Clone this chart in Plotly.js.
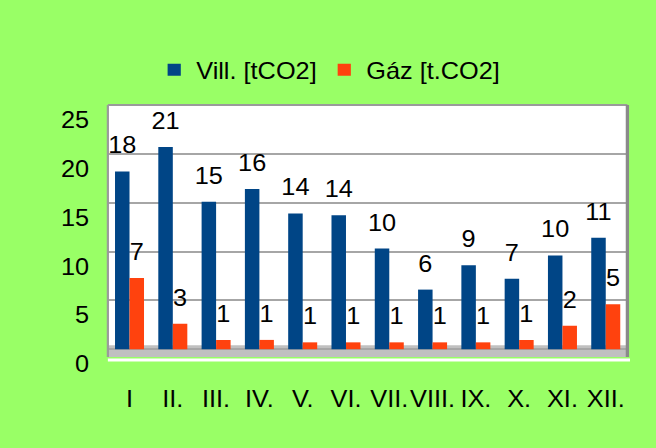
<!DOCTYPE html>
<html>
<head>
<meta charset="utf-8">
<script src="https://cdn.plot.ly/plotly-3.0.1.min.js"></script>
<style>
  html, body { margin: 0; padding: 0; background: #99ff66; overflow: hidden; }
  #chart { width: 596px; height: 448px; transform: scaleX(1.1007); transform-origin: 0 0; }
</style>
</head>
<body>
<div id="chart"></div>
<script>
// Months (Roman numerals, as in the reference)
const months = ['I', 'II.', 'III.', 'IV.', 'V.', 'VI.', 'VII.', 'VIII.', 'IX.', 'X.', 'XI.', 'XII.'];
// Electricity [tCO2]
const vill = [18.2, 20.7, 15.1, 16.4, 13.9, 13.7, 10.3, 6.1, 8.6, 7.2, 9.6, 11.4];
// Gas [t.CO2]
const gaz = [7.3, 2.6, 0.95, 0.95, 0.7, 0.7, 0.7, 0.7, 0.7, 0.95, 2.4, 4.6];

const seriesNames = ['Vill. [tCO2]', 'Gáz [t.CO2]'];
const colors = ['#004586', '#ff420e'];
const FONT = '"Liberation Sans", Arial, sans-serif';

const barTrace = (y, i) => ({
  type: 'bar', x: months, y: y, name: seriesNames[i],
  marker: { color: colors[i] }, hoverinfo: 'skip'
});
const labelTrace = (y, i) => ({
  type: 'scatter', mode: 'markers+text', x: months, y: y,
  texttemplate: '%{y:.0f}', textposition: 'top center',
  textfont: { family: FONT, size: 23, color: '#000' },
  marker: { size: 18, opacity: 0 }, showlegend: false, hoverinfo: 'skip',
  cliponaxis: false
});

const data = [barTrace(vill, 0), barTrace(gaz, 1), labelTrace(vill, 0), labelTrace(gaz, 1)];

const layout = {
  width: 596, height: 448,
  paper_bgcolor: '#99ff66', plot_bgcolor: '#ffffff',
  font: { family: FONT, size: 23, color: '#000' },
  margin: { l: 98, r: 26, t: 105, b: 91 },
  barmode: 'group', bargap: 0.33, bargroupgap: 0,
  scattermode: 'group', scattergap: 0.33,
  showlegend: true,
  legend: {
    orientation: 'h', xref: 'container', yref: 'container',
    x: 0.232, y: 0.844, xanchor: 'left', yanchor: 'middle',
    font: { family: FONT, size: 23, color: '#000' },
    bgcolor: 'rgba(0,0,0,0)', traceorder: 'normal'
  },
  xaxis: {
    type: 'category', showgrid: false, zeroline: false, showline: false,
    ticks: '', tickangle: 0, tickfont: { family: FONT, size: 23, color: '#000' },
    ticklabelstandoff: 26
  },
  yaxis: {
    range: [-0.8, 25], tickvals: [0, 5, 10, 15, 20, 25],
    showgrid: true, gridcolor: '#a6a6a6', gridwidth: 2,
    zeroline: false, showline: false, ticks: '',
    tickfont: { family: FONT, size: 23, color: '#000' },
    ticklabelshift: 15, ticklabelstandoff: 16
  },
  shapes: [
    { type: 'rect', xref: 'paper', yref: 'y', x0: 0, x1: 1, y0: -0.8, y1: 0.4,
      fillcolor: '#c0c0c0', line: { width: 0 }, layer: 'between' },
    { type: 'line', xref: 'paper', yref: 'paper', x0: 0, x1: 0, y0: 0, y1: 1,
      line: { color: '#9a9a9a', width: 2 } },
    { type: 'line', xref: 'paper', yref: 'paper', x0: 0, x1: 1, y0: 1, y1: 1,
      line: { color: '#9a9a9a', width: 2 } },
    { type: 'line', xref: 'paper', yref: 'paper', x0: 1, x1: 1, y0: 0, y1: 1,
      line: { color: '#8a8a8a', width: 3 } },
    { type: 'line', xref: 'paper', yref: 'paper', x0: 0, x1: 1.005, y0: -0.012, y1: -0.012,
      line: { color: '#ffffff', width: 3 } }
  ]
};

Plotly.newPlot('chart', data, layout, { displayModeBar: false, staticPlot: true });
</script>
</body>
</html>
